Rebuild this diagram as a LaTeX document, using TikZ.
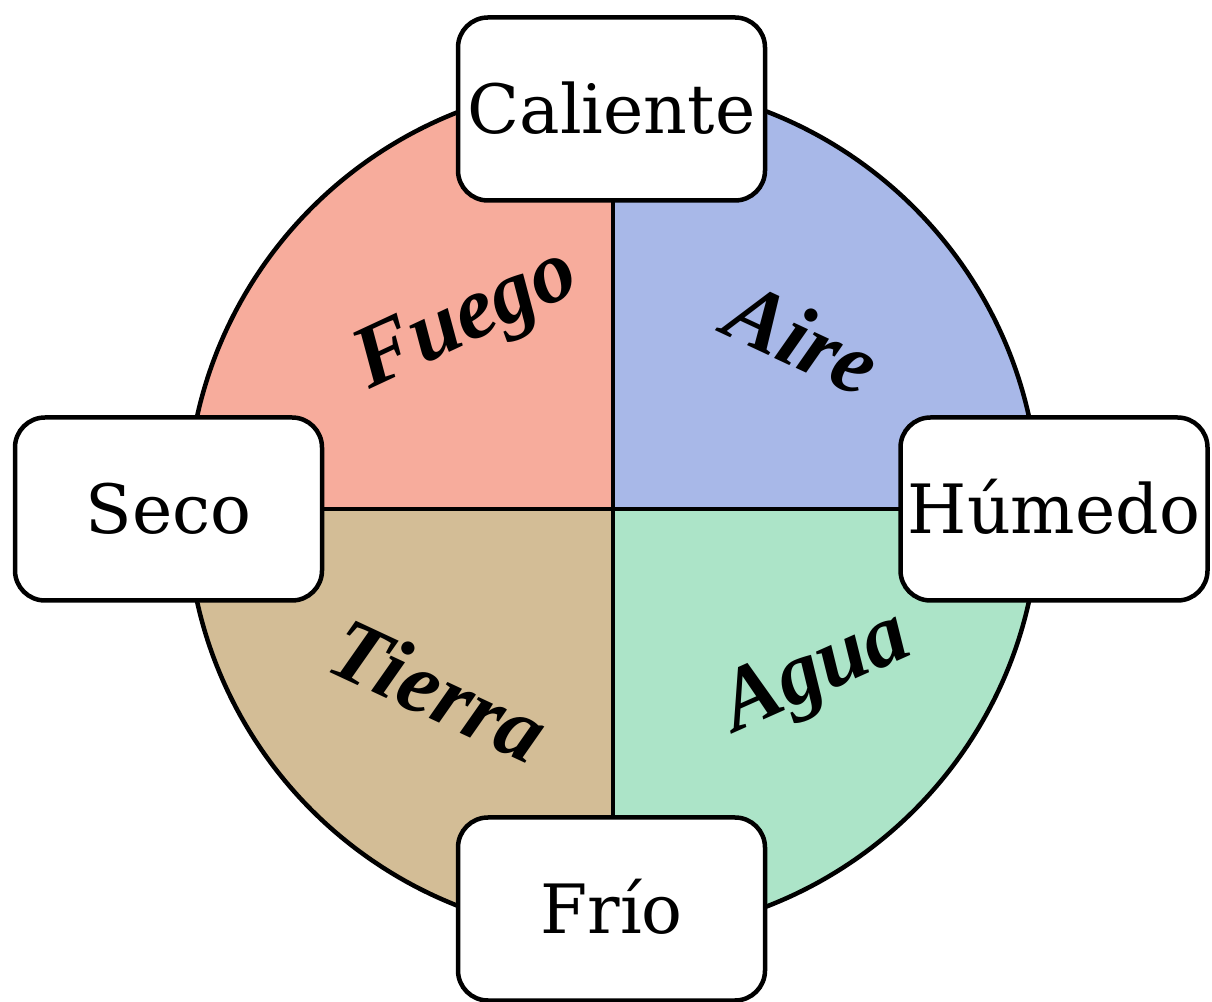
\documentclass[tikz,border=0pt]{standalone}
\usepackage{fontspec}
\usetikzlibrary{calc}
\setmainfont{DejaVu Serif}
\newfontfamily\elfont{Liberation Serif}
\definecolor{fuegoc}{HTML}{F7AC9C}
\definecolor{airec}{HTML}{A8B8E8}
\definecolor{tierrac}{HTML}{D3BD96}
\definecolor{aguac}{HTML}{ACE4C8}
\begin{document}
\begin{tikzpicture}[x=1pt,y=1pt,
  qualbox/.style={draw=black, fill=white, line width=4.5pt, rounded corners=30pt,
    minimum width=307pt, minimum height=183pt, inner sep=0pt,
    text height=50pt, text depth=0pt,
    font=\fontsize{68}{68}\selectfont},
  elem/.style={inner sep=0pt, font=\elfont\bfseries\itshape\fontsize{88}{88}\selectfont},
  divline/.style={line width=4pt, line cap=rect}]
\useasboundingbox (0,0) rectangle (1212,1001);
\coordinate (c) at (613,492);
\def\rr{426}
% quadrants
\fill[fuegoc] (c) -- ++(180:\rr) arc[start angle=180, end angle=90, radius=\rr] -- cycle;
\fill[airec] (c) -- ++(90:\rr) arc[start angle=90, end angle=0, radius=\rr] -- cycle;
\fill[aguac] (c) -- ++(0:\rr) arc[start angle=0, end angle=-90, radius=\rr] -- cycle;
\fill[tierrac] (c) -- ++(-90:\rr) arc[start angle=-90, end angle=-180, radius=\rr] -- cycle;
% dividers
\coordinate (ctop) at ($(c)+(0,\rr)$);
\coordinate (cbot) at ($(c)+(0,-\rr)$);
\coordinate (cleft) at ($(c)+(-\rr,0)$);
\coordinate (cright) at ($(c)+(\rr,0)$);
\draw[divline] (ctop) -- (cbot);
\draw[divline] (cleft) -- (cright);
\draw[line width=4.5pt] (c) circle[radius=\rr];
% element labels
\node[elem, rotate=25] (fuego) at (468,679) {Fuego};
\node[elem, rotate=-25] (aire) at (803,663) {Aire};
\node[elem, rotate=-25] (tierra) at (439,311) {Tierra};
\node[elem, rotate=24] (agua) at (817,326) {Agua};
% quality boxes
\node[qualbox] (caliente) at (611.5,892) {Caliente};
\node[qualbox] (seco) at (168.5,492) {Seco};
\node[qualbox] (humedo) at (1054,492) {Húmedo};
\node[qualbox] (frio) at (611.5,92) {Frío};
\end{tikzpicture}
\end{document}
